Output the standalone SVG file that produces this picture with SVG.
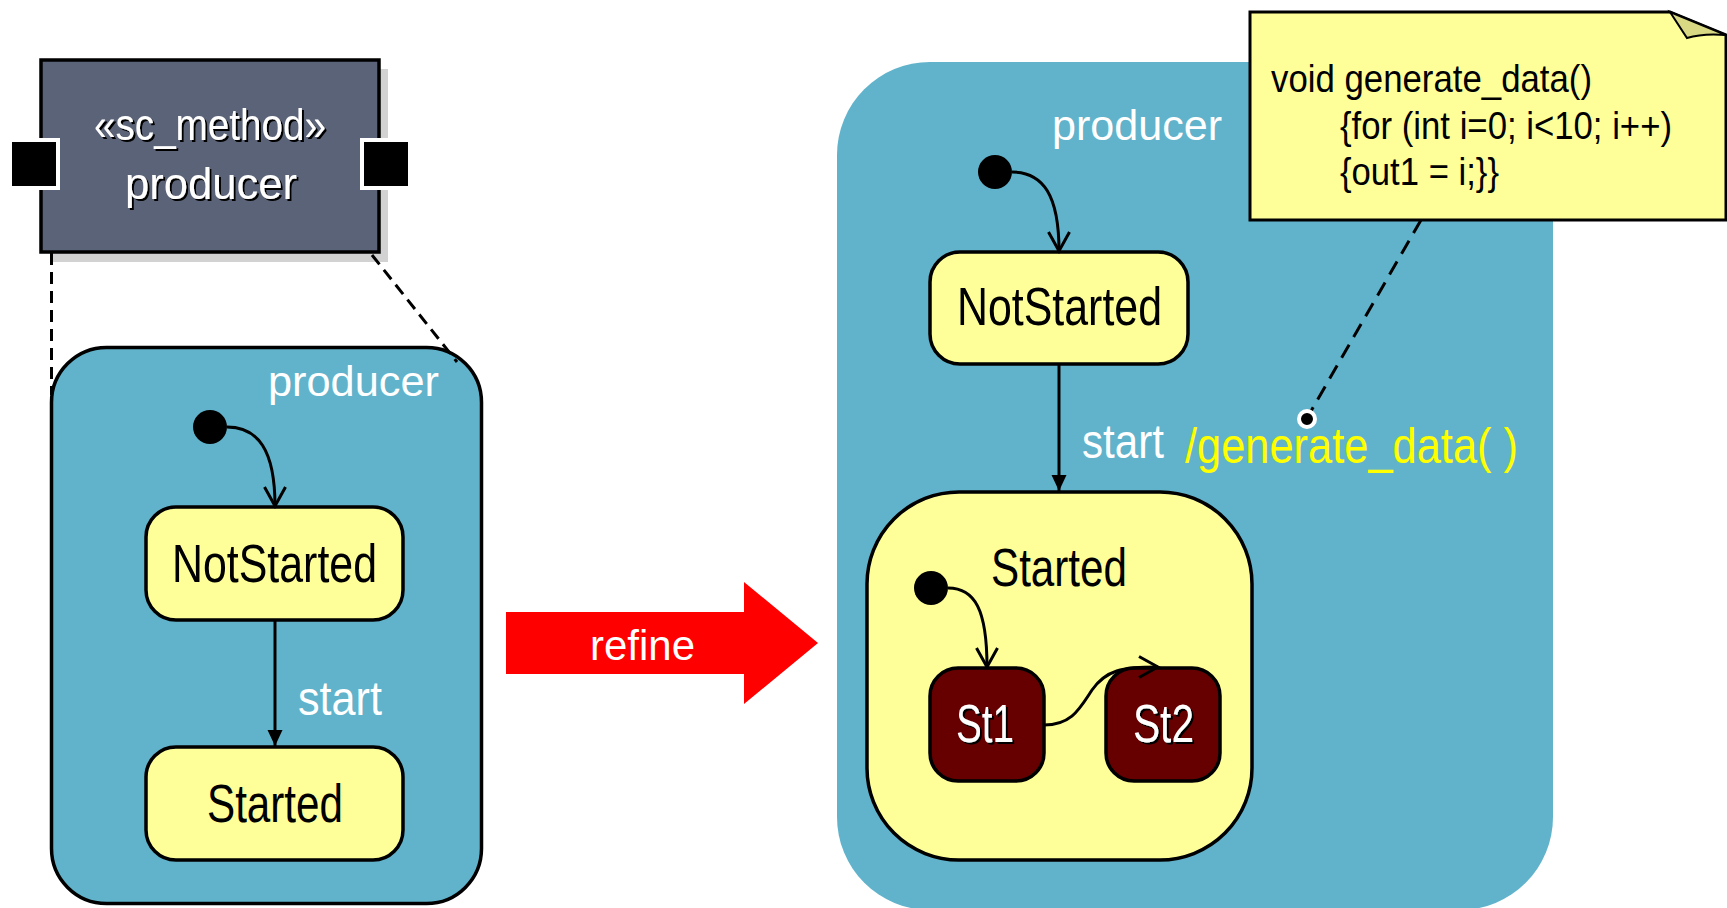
<svg xmlns="http://www.w3.org/2000/svg" width="1727" height="908" viewBox="0 0 1727 908">
<defs>
<style>
text{font-family:"Liberation Sans",Arial,sans-serif;}
.blue{fill:#60b3cb;}
.state{fill:#ffff99;stroke:#000;stroke-width:3.5;}
.sub{fill:#660000;stroke:#000;stroke-width:3.5;}
.edge{fill:none;stroke:#000;stroke-width:3;}
.dash{fill:none;stroke:#000;stroke-width:3;stroke-dasharray:12 7;}
.init{fill:#000;}
.wt{fill:#fff;}
.bt{fill:#000;}
.sh{filter:url(#tshadow);}
</style>
<filter id="tshadow" x="-10%" y="-10%" width="130%" height="140%">
<feDropShadow dx="2" dy="2" stdDeviation="0.3" flood-color="#000" flood-opacity="1"/>
</filter>
<marker id="open" viewBox="0 0 24 24" refX="21" refY="12" markerWidth="24" markerHeight="24" markerUnits="userSpaceOnUse" orient="auto">
<path d="M2,1.5 L21,12 L2,22.5" fill="none" stroke="#000" stroke-width="3"/>
</marker>
<marker id="filled" viewBox="0 0 16 16" refX="16" refY="8" markerWidth="16" markerHeight="16" markerUnits="userSpaceOnUse" orient="auto">
<path d="M0,0.5 L16,8 L0,15.5 Z" fill="#000"/>
</marker>
</defs>
<rect width="1727" height="908" fill="#fff"/>

<!-- right big state (background) -->
<g id="producer-refined">
<rect class="blue" x="837" y="62" width="716" height="848" rx="93" ry="93"/>
<text class="wt" x="1052" y="140" font-size="43" textLength="170" lengthAdjust="spacingAndGlyphs">producer</text>
</g>

<!-- component box -->
<g id="sc-method-producer">
<rect x="50" y="69" width="338" height="193" fill="#d2d2d2"/>
<rect x="41" y="60" width="338" height="192" fill="#5b6378" stroke="#000" stroke-width="3.5"/>
<rect x="10" y="140" width="48" height="48" fill="#000" stroke="#fff" stroke-width="4"/>
<rect x="362" y="140" width="48" height="48" fill="#000" stroke="#fff" stroke-width="4"/>
<text class="wt sh" x="94" y="140" font-size="45" textLength="232" lengthAdjust="spacingAndGlyphs">«sc_method»</text>
<text class="wt sh" x="125" y="199" font-size="45" textLength="172" lengthAdjust="spacingAndGlyphs">producer</text>
</g>

<!-- left state machine -->
<g id="producer-left">
<rect class="blue" x="51.5" y="347.5" width="430" height="556" rx="55" ry="55" stroke="#000" stroke-width="3.5"/>
<text class="wt" x="268" y="396" font-size="43" textLength="171" lengthAdjust="spacingAndGlyphs">producer</text>
</g>
<g id="left-initial"><circle class="init" cx="210" cy="427" r="17"/></g>
<g id="left-notstarted">
<rect class="state" x="146" y="507" width="257" height="113" rx="30" ry="30"/>
<text class="bt" x="172" y="582" font-size="54" textLength="205" lengthAdjust="spacingAndGlyphs">NotStarted</text>
</g>
<g id="left-started">
<rect class="state" x="146" y="747" width="257" height="113" rx="30" ry="30"/>
<text class="bt" x="207" y="822" font-size="54" textLength="136" lengthAdjust="spacingAndGlyphs">Started</text>
</g>

<!-- refine arrow -->
<g id="refine">
<polygon points="506,612 744,612 744,582 818,643 744,704 744,674 506,674" fill="#ff0000"/>
<text class="wt" x="590" y="660" font-size="43" textLength="105" lengthAdjust="spacingAndGlyphs">refine</text>
</g>

<!-- right state machine contents -->
<g id="right-initial"><circle class="init" cx="995" cy="172" r="17"/></g>
<g id="right-notstarted">
<rect class="state" x="930" y="252" width="258" height="112" rx="30" ry="30"/>
<text class="bt" x="957" y="325" font-size="54" textLength="205" lengthAdjust="spacingAndGlyphs">NotStarted</text>
</g>
<g id="right-started">
<rect class="state" x="867" y="492" width="385" height="368" rx="92" ry="92"/>
<text class="bt" x="991" y="586" font-size="54" textLength="136" lengthAdjust="spacingAndGlyphs">Started</text>
</g>
<g id="started-initial"><circle class="init" cx="931" cy="588" r="17"/></g>
<g id="st1">
<rect class="sub" x="930" y="668" width="114" height="113" rx="28" ry="28"/>
<text class="wt sh" x="956" y="742" font-size="54" textLength="58" lengthAdjust="spacingAndGlyphs">St1</text>
</g>
<g id="st2">
<rect class="sub" x="1106" y="668" width="114" height="113" rx="28" ry="28"/>
<text class="wt sh" x="1133" y="742" font-size="54" textLength="61" lengthAdjust="spacingAndGlyphs">St2</text>
</g>

<!-- note -->
<g id="note">
<path d="M1250,12 H1670 L1726,35 V220 H1250 Z" fill="#ffff99" stroke="#000" stroke-width="3"/>
<path d="M1670,12 L1687,38 Q1703,33 1726,35 Z" fill="#d9d984" stroke="#000" stroke-width="2"/>
<text class="bt" x="1271" y="92" font-size="39" textLength="321" lengthAdjust="spacingAndGlyphs">void generate_data()</text>
<text class="bt" x="1340" y="138.5" font-size="39" textLength="332" lengthAdjust="spacingAndGlyphs">{for (int i=0; i&lt;10; i++)</text>
<text class="bt" x="1340" y="185" font-size="39" textLength="159" lengthAdjust="spacingAndGlyphs">{out1 = i;}}</text>
</g>

<!-- connectors -->
<g id="connectors">
<line class="dash" x1="51.5" y1="253" x2="51.5" y2="395"/>
<line class="dash" x1="372" y1="255" x2="457" y2="362"/>
<path class="edge" d="M227,427 C258,427 275,450 275,506" marker-end="url(#open)"/>
<path class="edge" d="M275,620 V746" marker-end="url(#filled)"/>
<text class="wt" x="298" y="715" font-size="48" textLength="84" lengthAdjust="spacingAndGlyphs">start</text>
<path class="edge" d="M1012,172 C1043,172 1059,195 1059,251" marker-end="url(#open)"/>
<path class="edge" d="M1059,364 V491" marker-end="url(#filled)"/>
<text class="wt" x="1082" y="458" font-size="48" textLength="82" lengthAdjust="spacingAndGlyphs">start</text>
<text x="1185" y="463" font-size="50" fill="#ffff00" textLength="333" lengthAdjust="spacingAndGlyphs">/generate_data( )</text>
<path class="edge" d="M948,588 C975,588 987,610 987,667" marker-end="url(#open)"/>
<path class="edge" d="M1044,725 C1072,725 1080,708 1092,690 C1106,670 1122,667 1158,667" marker-end="url(#open)"/>
<line x1="1421" y1="220" x2="1311" y2="411" fill="none" stroke="#000" stroke-width="3" stroke-dasharray="15 9"/>
<circle cx="1307" cy="419" r="8" fill="#000" stroke="#fff" stroke-width="4"/>
</g>
</svg>
